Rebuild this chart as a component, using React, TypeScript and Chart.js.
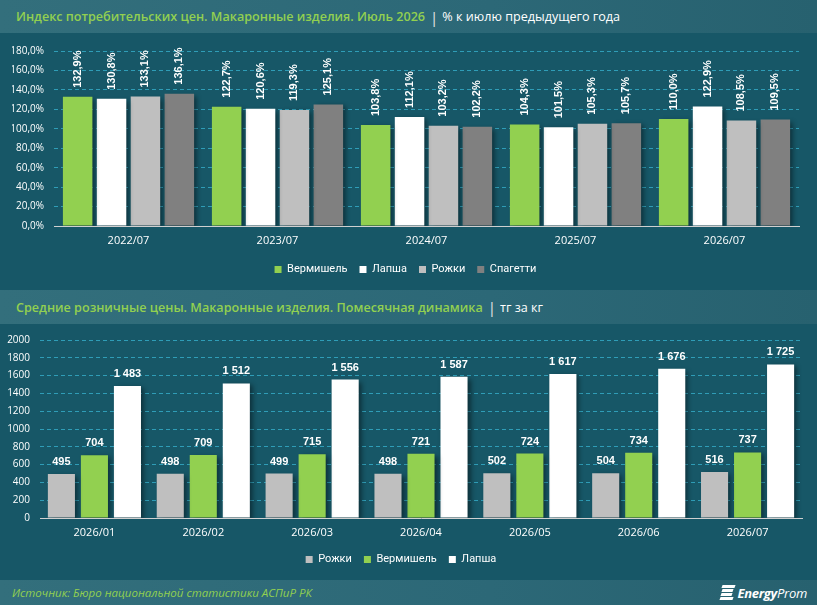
import React, { useEffect, useRef } from 'react';
import { Chart, registerables } from 'chart.js';

Chart.register(...registerables);

// ---- Data: CPI, % to July of previous year ----
const CPI_YEARS = ['2022/07', '2023/07', '2024/07', '2025/07', '2026/07'];
const CPI_VERMICELLI = [132.9, 122.7, 103.8, 104.3, 110.0];
const CPI_NOODLES = [130.8, 120.6, 112.1, 101.5, 122.9];
const CPI_HORNS = [133.1, 119.3, 103.2, 105.3, 108.5];
const CPI_SPAGHETTI = [136.1, 125.1, 102.2, 105.7, 109.5];

// ---- Data: average retail prices, tenge per kg ----
const PRICE_MONTHS = ['2026/01', '2026/02', '2026/03', '2026/04', '2026/05', '2026/06', '2026/07'];
const PRICE_HORNS = [495, 498, 499, 498, 502, 504, 516];
const PRICE_VERMICELLI = [704, 709, 715, 721, 724, 734, 737];
const PRICE_NOODLES = [1483, 1512, 1556, 1587, 1617, 1676, 1725];

const GREEN = '#92d050';
const WHITE = '#ffffff';
const LIGHT_GRAY = '#bfbfbf';
const DARK_GRAY = '#808080';
const BG = '#175767';
const GRID = '#2f9db7';
const BAND = 'linear-gradient(90deg, #336f7c 0%, #2c6877 60%, #27616f 100%)';

const FONT = '"Open Sans", "DejaVu Sans", sans-serif';
const LEGEND_FONT = 'Roboto, "Open Sans", sans-serif';

const shadowPlugin = {
  id: 'barShadow',
  beforeDatasetDraw(chart: any) {
    const c = chart.ctx;
    c.save();
    c.shadowColor = 'rgba(0,0,0,0.45)';
    c.shadowBlur = 5;
    c.shadowOffsetX = 3;
    c.shadowOffsetY = 2;
  },
  afterDatasetDraw(chart: any) {
    chart.ctx.restore();
  },
};

const makeLabelPlugin = (vertical: boolean, fmt: (v: number) => string) => ({
  id: 'valueLabels',
  afterDatasetsDraw(chart: any) {
    const ctx = chart.ctx;
    ctx.save();
    ctx.font = 'bold 11px "Liberation Sans", Arial, sans-serif';
    ctx.fillStyle = '#ffffff';
    chart.data.datasets.forEach((ds: any, di: number) => {
      const meta = chart.getDatasetMeta(di);
      meta.data.forEach((bar: any, i: number) => {
        const text = fmt(ds.data[i]);
        if (vertical) {
          ctx.save();
          ctx.translate(bar.x, bar.y - 9);
          ctx.rotate(-Math.PI / 2);
          ctx.textAlign = 'left';
          ctx.textBaseline = 'middle';
          ctx.fillText(text, 0, 0);
          ctx.restore();
        } else {
          ctx.textAlign = 'center';
          ctx.textBaseline = 'alphabetic';
          ctx.fillText(text, bar.x, bar.y - 9);
        }
      });
    });
    ctx.restore();
  },
});

const pct = (v: number) => v.toFixed(1).replace('.', ',') + '%';
const thousands = (v: number) => String(v).replace(/\B(?=(\d{3})+(?!\d))/g, ' ');

const legendOpts = {
  position: 'bottom',
  labels: {
    color: '#ffffff',
    boxWidth: 7,
    boxHeight: 7,
    padding: 12,
    font: { family: LEGEND_FONT, size: 11 },
  },
};

function CpiChart() {
  const ref = useRef<HTMLCanvasElement>(null);
  useEffect(() => {
    const chart = new Chart(ref.current!, {
      type: 'bar',
      data: {
        labels: CPI_YEARS,
        datasets: [
          { label: 'Вермишель', data: CPI_VERMICELLI, backgroundColor: GREEN },
          { label: 'Лапша', data: CPI_NOODLES, backgroundColor: WHITE },
          { label: 'Рожки', data: CPI_HORNS, backgroundColor: LIGHT_GRAY },
          { label: 'Спагетти', data: CPI_SPAGHETTI, backgroundColor: DARK_GRAY },
        ],
      },
      options: {
        responsive: false,
        animation: false,
        datasets: { bar: { categoryPercentage: 0.91, barPercentage: 0.87, borderWidth: 0 } },
        layout: { padding: { left: 12, right: 18, top: 18, bottom: 5 } },
        scales: {
          x: {
            grid: { display: false, drawTicks: false },
            border: { display: true, color: '#d0d0d0', width: 1 },
            ticks: { color: '#ffffff', font: { family: FONT, size: 11 }, padding: 8 },
            afterFit: (s: any) => { s.height = 26; },
          },
          y: {
            min: 0,
            max: 180,
            ticks: {
              stepSize: 20,
              color: '#ffffff',
              font: { family: FONT, size: 10 },
              padding: 10,
              callback: (v: any) => pct(Number(v)),
            },
            grid: {
              drawTicks: false,
              color: (c: any) => (c.tick && c.tick.value === 0 ? 'rgba(0,0,0,0)' : GRID),
              lineWidth: 1,
            },
            border: { display: false, dash: [4, 3] },
            afterFit: (s: any) => { s.width = 42; },
          },
        },
        plugins: {
          legend: legendOpts,
          tooltip: { enabled: false },
        },
      } as any,
      plugins: [shadowPlugin, makeLabelPlugin(true, pct)],
    });
    return () => chart.destroy();
  }, []);
  return <canvas ref={ref} width={817} height={257} style={{ display: 'block' }} />;
}

function PriceChart() {
  const ref = useRef<HTMLCanvasElement>(null);
  useEffect(() => {
    const chart = new Chart(ref.current!, {
      type: 'bar',
      data: {
        labels: PRICE_MONTHS,
        datasets: [
          { label: 'Рожки', data: PRICE_HORNS, backgroundColor: LIGHT_GRAY },
          { label: 'Вермишель', data: PRICE_VERMICELLI, backgroundColor: GREEN },
          { label: 'Лапша', data: PRICE_NOODLES, backgroundColor: WHITE },
        ],
      },
      options: {
        responsive: false,
        animation: false,
        datasets: { bar: { categoryPercentage: 0.91, barPercentage: 0.82, borderWidth: 0 } },
        layout: { padding: { left: 0, right: 15, top: 15, bottom: 5 } },
        scales: {
          x: {
            grid: { display: false, drawTicks: false },
            border: { display: true, color: '#d0d0d0', width: 1 },
            ticks: { color: '#ffffff', font: { family: FONT, size: 11 }, padding: 8 },
            afterFit: (s: any) => { s.height = 24; },
          },
          y: {
            min: 0,
            max: 2000,
            ticks: {
              stepSize: 200,
              color: '#ffffff',
              font: { family: FONT, size: 10 },
              padding: 10,
              callback: (v: any) => String(v),
            },
            grid: {
              drawTicks: false,
              color: (c: any) => (c.tick && c.tick.value === 0 ? 'rgba(0,0,0,0)' : GRID),
              lineWidth: 1,
            },
            border: { display: false, dash: [4, 3] },
            afterFit: (s: any) => { s.width = 40; },
          },
        },
        plugins: {
          legend: legendOpts,
          tooltip: { enabled: false },
        },
      } as any,
      plugins: [shadowPlugin, makeLabelPlugin(false, thousands)],
    });
    return () => chart.destroy();
  }, []);
  return <canvas ref={ref} width={817} height={256} style={{ display: 'block' }} />;
}

const titleStyle: React.CSSProperties = {
  position: 'absolute',
  left: 16,
  top: 0,
  height: '100%',
  display: 'flex',
  alignItems: 'center',
  fontFamily: FONT,
  fontSize: 12.6,
  whiteSpace: 'nowrap',
};

function Band({ top, height, children }: { top: number; height: number; children?: React.ReactNode }) {
  return (
    <div style={{ position: 'absolute', left: 0, top, width: 817, height, background: BAND }}>
      {children}
    </div>
  );
}

function Logo() {
  const stripe = (t: number, w: number): React.CSSProperties => ({
    position: 'absolute',
    left: 0,
    top: t,
    width: w,
    height: 3,
    background: '#ffffff',
    transform: 'skewX(-20deg)',
  });
  return (
    <div style={{ position: 'absolute', right: 10, top: 4, height: 18, display: 'flex', alignItems: 'center' }}>
      <div style={{ position: 'relative', width: 15, height: 16, marginRight: 2 }}>
        <div style={{ ...stripe(0, 13), left: 2 }} />
        <div style={{ ...stripe(4, 11), left: 2 }} />
        <div style={{ ...stripe(8, 11), left: 1 }} />
        <div style={{ ...stripe(12, 13), left: 0 }} />
      </div>
      <span style={{ fontFamily: FONT, fontStyle: 'italic', color: '#ffffff', fontSize: 13, letterSpacing: -0.3 }}>
        <b>Energy</b>Prom
      </span>
    </div>
  );
}

export default function App() {
  return (
    <div
      style={{
        position: 'absolute',
        left: 0,
        top: 0,
        width: 817,
        height: 605,
        background: BG,
        overflow: 'hidden',
        fontFamily: FONT,
      }}
    >
      <Band top={0} height={33}>
        <div style={titleStyle}>
          <span style={{ color: GREEN, fontWeight: 600 }}>Индекс потребительских цен. Макаронные изделия. Июль 2026</span>
          <span style={{ color: '#e6e6e6', margin: '0 4px 0 5px', fontSize: 15 }}>|</span>
          <span style={{ color: '#ffffff' }}>% к июлю предыдущего года</span>
        </div>
      </Band>
      <div style={{ position: 'absolute', left: 0, top: 33 }}>
        <CpiChart />
      </div>
      <Band top={290} height={34}>
        <div style={titleStyle}>
          <span style={{ color: GREEN, fontWeight: 600 }}>Средние розничные цены. Макаронные изделия. Помесячная динамика</span>
          <span style={{ color: '#e6e6e6', margin: '0 4px 0 5px', fontSize: 15 }}>|</span>
          <span style={{ color: '#ffffff' }}>тг за кг</span>
        </div>
      </Band>
      <div style={{ position: 'absolute', left: 0, top: 324 }}>
        <PriceChart />
      </div>
      <Band top={580} height={25}>
        <div
          style={{
            position: 'absolute',
            left: 12,
            top: 0,
            height: 25,
            display: 'flex',
            alignItems: 'center',
            color: GREEN,
            fontStyle: 'italic',
            fontSize: 11.5,
            fontFamily: FONT,
          }}
        >
          Источник: Бюро национальной статистики АСПиР РК
        </div>
        <Logo />
      </Band>
    </div>
  );
}
